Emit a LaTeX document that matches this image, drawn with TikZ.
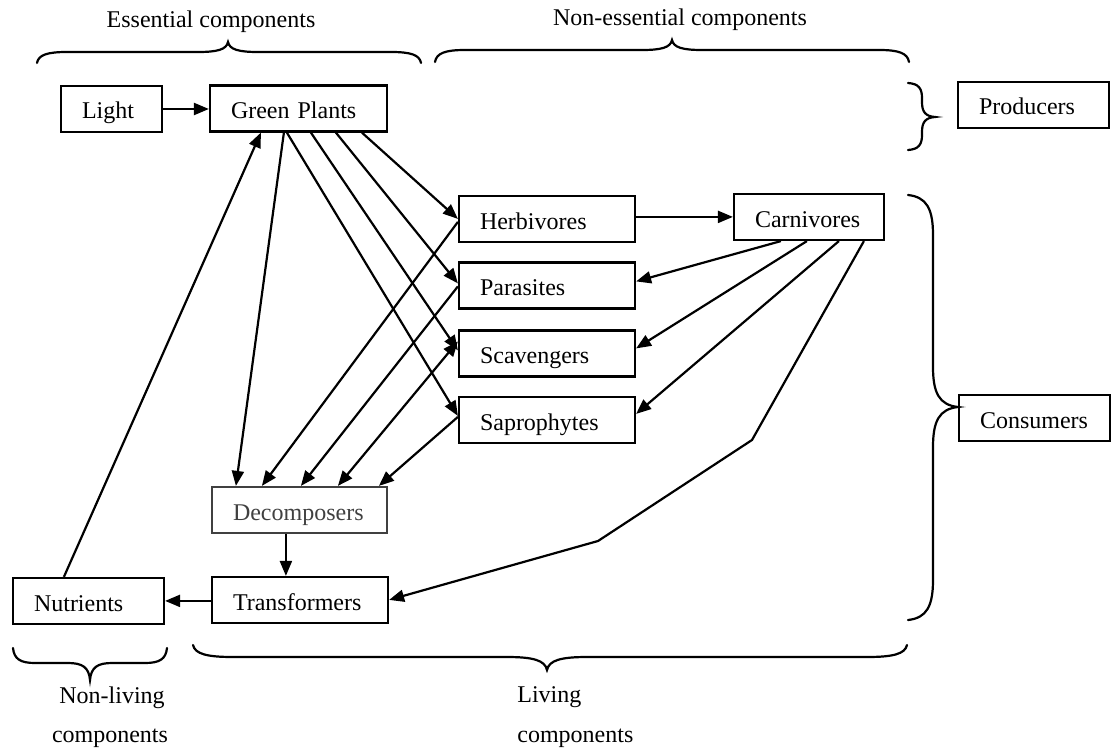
\documentclass[tikz,border=0pt]{standalone}
\usepackage{fontspec}
\setmainfont{Liberation Serif}
\usetikzlibrary{arrows.meta,calc}
\hyphenpenalty=10000
\exhyphenpenalty=10000

% horizontal curly brace: x left, x right, x tip, y ends, y line, y tip, curve length
\newcommand{\hbr}[7]{%
  \draw[brace] ({#1},{#4}) .. controls ({#1+0.05*#7},{#4+0.75*(#5-#4)}) and ({#1+0.35*#7},{#5}) .. ({#1+#7},{#5})
    -- ({#3-#7},{#5}) .. controls ({#3-0.35*#7},{#5}) and ({#3-0.05*#7},{#5+0.25*(#6-#5)}) .. ({#3},{#6})
    .. controls ({#3+0.05*#7},{#5+0.25*(#6-#5)}) and ({#3+0.35*#7},{#5}) .. ({#3+#7},{#5})
    -- ({#2-#7},{#5}) .. controls ({#2-0.35*#7},{#5}) and ({#2-0.05*#7},{#4+0.75*(#5-#4)}) .. ({#2},{#4});}
% vertical curly brace: y top, y bottom, y tip, x ends, x line, x tip, curve length
\newcommand{\vbr}[7]{%
  \draw[brace] ({#4},{#1}) .. controls ({#4+0.75*(#5-#4)},{#1+0.05*#7}) and ({#5},{#1+0.35*#7}) .. ({#5},{#1+#7})
    -- ({#5},{#3-#7}) .. controls ({#5},{#3-0.35*#7}) and ({#5+0.25*(#6-#5)},{#3-0.05*#7}) .. ({#6},{#3})
    .. controls ({#5+0.25*(#6-#5)},{#3+0.05*#7}) and ({#5},{#3+0.35*#7}) .. ({#5},{#3+#7})
    -- ({#5},{#2-#7}) .. controls ({#5},{#2-0.35*#7}) and ({#4+0.75*(#5-#4)},{#2-0.05*#7}) .. ({#4},{#2});}

\begin{document}
\begin{tikzpicture}[x=0.5pt,y=-0.5pt,
  font=\fontsize{12pt}{14.5pt}\selectfont,
  box/.style={draw, line width=1.1pt, minimum height=23pt, inner xsep=10.5pt, inner ysep=0pt,
              text height=10pt, text depth=0pt, align=left, text width=#1},
  tip/.tip={Triangle[length=7.5pt,width=6pt]},
  link/.style={line width=1.1pt, -tip},
  twoway/.style={line width=1.1pt, tip-tip},
  brace/.style={line width=1.1pt, line cap=round},
  lbl/.style={inner sep=0pt}
]
\useasboundingbox (0,0) rectangle (1113,749);

% boxes
\node[box=29.5pt] (light)  at (111.5,109)  {Light};
\node[box=67.5pt] (gp)     at (298.5,108.5){Green Plants};
\node[box=67pt]   (herb)   at (547,219)    {Herbivores};
\node[box=67pt]   (para)   at (547,285.5)  {Parasites};
\node[box=67pt]   (scav)   at (547,353.5)  {Scavengers};
\node[box=67pt]   (sapr)   at (547,420)    {Saprophytes};
\node[box=54pt]   (carn)   at (809,217)    {Carnivores};
\node[box=54.5pt] (prod)   at (1033.5,105) {Producers};
\node[box=54.5pt] (cons)   at (1034.5,418) {Consumers};
\node[box=66.5pt, draw=black!75, text=black!75] (decomp) at (299.5,510) {Decomposers};
\node[box=67pt]   (transf) at (300,600)    {Transformers};
\node[box=54.5pt] (nutr)   at (88.5,601)   {Nutrients};

% group labels
\node[lbl, anchor=base] (ess)  at (211,28) {Essential components};
\node[lbl, anchor=base] (ness) at (680,26) {Non-essential components};
\node[lbl, anchor=base] (nl1)  at (112,703) {Non-living};
\node[lbl, anchor=base] (nl2)  at (110,742) {components};
\node[lbl, anchor=base west] (lv1) at (517,702) {Living};
\node[lbl, anchor=base west] (lv2) at (517,742) {components};

% braces
\hbr{37}{421}{228}{63}{52}{42}{30}
\hbr{435}{909}{672}{62}{50}{40}{30}
\vbr{83}{150}{117}{908}{922}{935}{15}
\vbr{195}{620}{407}{908}{933}{958}{40}
\hbr{13}{167}{90}{648}{663}{680}{22}
\hbr{193}{907}{547}{645}{657}{670}{40}

% energy input
\draw[link] (light.east) -- (light.east -| gp.west);

% from green plants
\draw[link] ($(gp.south west)+(153,0)$) -- ($(herb.north west)+(0,24)$);
\draw[link] ($(gp.south west)+(127,0)$) -- ($(para.north west)+(0,22)$);
\draw[link] ($(gp.south west)+(102,0)$) -- ($(scav.north west)+(0,21)$);
\draw[link] ($(gp.south west)+(78,0)$)  -- ($(sapr.north west)+(0,20)$);
\draw[link] ($(gp.south west)+(75,0)$)  -- ($(decomp.north west)+(25,0)$);

% consumers to decomposers
\draw[link]   ($(herb.north west)+(0,27)$) -- ($(decomp.north west)+(51,0)$);
\draw[link]   ($(para.north west)+(0,25)$) -- ($(decomp.north west)+(90,0)$);
\draw[twoway] ($(scav.north west)+(0,12)$) -- ($(decomp.north west)+(127,0)$);
\draw[link]   ($(sapr.north west)+(0,21)$) -- ($(decomp.north west)+(168,0)$);

% carnivores
\draw[link] ($(herb.north east)+(0,22)$) -- ($(carn.north west)+(0,24)$);
\draw[link] ($(carn.south west)+(48,0)$)  -- ($(para.north east)+(0,20)$);
\draw[link] ($(carn.south west)+(74,0)$)  -- ($(scav.north east)+(0,19)$);
\draw[link] ($(carn.south west)+(106,0)$) -- ($(sapr.north east)+(0,18)$);
\coordinate (bend1) at (752,440);
\coordinate (bend2) at (598,541);
\draw[link] ($(carn.south west)+(131,0)$) -- (bend1) -- (bend2) -- ($(transf.north east)+(0,24)$);

% recycling
\draw[link] ($(decomp.south west)+(75,0)$) -- ($(transf.north west)+(75,0)$);
\draw[link] ($(transf.north west)+(0,25)$) coordinate (tn) -- (tn -| nutr.east);
\draw[link] ($(nutr.north west)+(52,0)$) -- ($(gp.south west)+(52,0)$);
\end{tikzpicture}
\end{document}
